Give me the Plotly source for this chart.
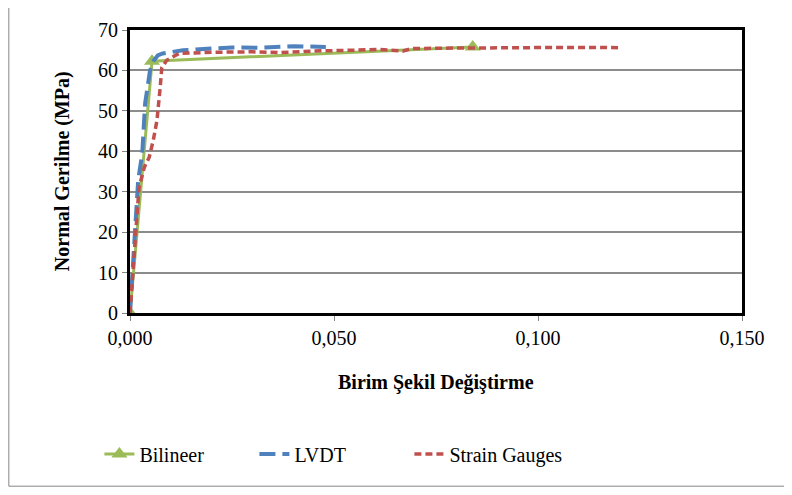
import plotly.graph_objects as go

# Data
bil_x = [0.0, 0.0054, 0.084]
bil_y = [0.0, 62.3, 65.8]

lvdt_x = [0.0, 0.0010, 0.0020, 0.0030, 0.0037, 0.0044, 0.0049, 0.0058, 0.0068, 0.0080, 0.0100,
          0.0130, 0.0180, 0.0250, 0.0320, 0.0400, 0.0440, 0.0480]
lvdt_y = [0.0, 16.0, 32.8, 39.5, 51.8, 56.5, 60.0, 62.4, 63.7, 64.2, 64.6,
          65.0, 65.3, 65.7, 65.6, 66.0, 65.9, 65.8]

sg_x = [0.0, 0.0010, 0.0022, 0.0035, 0.0047, 0.0057, 0.0066, 0.0074, 0.0078, 0.0090, 0.0120,
        0.0200, 0.0300, 0.0370, 0.0450, 0.0550, 0.0610, 0.0670, 0.0690, 0.0760, 0.0840,
        0.0920, 0.1000, 0.1080, 0.1150, 0.1200]
sg_y = [0.0, 15.0, 31.0, 36.0, 38.5, 42.7, 47.6, 55.8, 60.7, 62.5, 64.2,
        64.5, 64.6, 64.4, 64.8, 65.0, 65.2, 64.8, 65.4, 65.5, 65.6,
        65.7, 65.8, 65.7, 65.7, 65.6]

x_ticks = [0.0, 0.05, 0.10, 0.15]
y_ticks = [0, 10, 20, 30, 40, 50, 60, 70]

GREEN = "#9BBB59"
BLUE = "#4F81BD"
RED = "#C0504D"
FONT = "Liberation Serif"

fig = go.Figure()
fig.add_trace(go.Scatter(x=bil_x, y=bil_y, name="Bilineer", mode="lines+markers",
                         line=dict(color=GREEN, width=3),
                         marker=dict(symbol="triangle-up", size=14, color=GREEN)))
fig.add_trace(go.Scatter(x=lvdt_x, y=lvdt_y, name="LVDT", mode="lines",
                         line=dict(color=BLUE, width=4, dash="16px,7px")))
fig.add_trace(go.Scatter(x=sg_x, y=sg_y, name="Strain Gauges", mode="lines",
                         line=dict(color=RED, width=3.5, dash="7px,4px")))

fig.update_layout(
    width=784, height=487,
    margin=dict(l=122, r=50, t=22, b=182),
    paper_bgcolor="white", plot_bgcolor="white",
    separators=",.",
    font=dict(family=FONT, size=20, color="black"),
    showlegend=True,
    legend=dict(orientation="h", x=-0.05, xanchor="left", y=-0.498, yanchor="middle",
                entrywidth=110, entrywidthmode="pixels",
                font=dict(family=FONT, size=20, color="black"), bgcolor="rgba(0,0,0,0)"),
    xaxis=dict(range=[0, 0.15], tickvals=x_ticks, tickformat=".3f",
               showgrid=False, zeroline=False,
               showline=True, linecolor="black", linewidth=3, mirror=True,
               ticks="outside", ticklen=5, tickcolor="#868686",
               tickfont=dict(family=FONT, size=20, color="black")),
    yaxis=dict(range=[0, 70], tickvals=y_ticks,
               showgrid=True, gridcolor="#8c8c8c", gridwidth=1.5, zeroline=False,
               showline=True, linecolor="black", linewidth=3, mirror=True,
               ticks="outside", ticklen=5, tickcolor="#868686",
               tickfont=dict(family=FONT, size=20, color="black")),
    annotations=[
        dict(text="<b>Birim Şekil Değiştirme</b>", x=0.5, xref="paper", y=-0.244, yref="paper",
             showarrow=False, xanchor="center", yanchor="middle",
             font=dict(family=FONT, size=20, color="black")),
        dict(text="<b>Normal Gerilme (MPa)</b>", x=-0.11, xref="paper", y=0.5, yref="paper",
             showarrow=False, textangle=-90, xanchor="center", yanchor="middle",
             font=dict(family=FONT, size=20, color="black")),
    ],
    shapes=[
        dict(type="rect", xref="paper", yref="paper", x0=-0.198, x1=1.0735, y0=-0.612, y1=1.095,
             line=dict(color="#868686", width=1), fillcolor="rgba(0,0,0,0)", layer="below"),
    ],
)

fig.write_html("out.html")
